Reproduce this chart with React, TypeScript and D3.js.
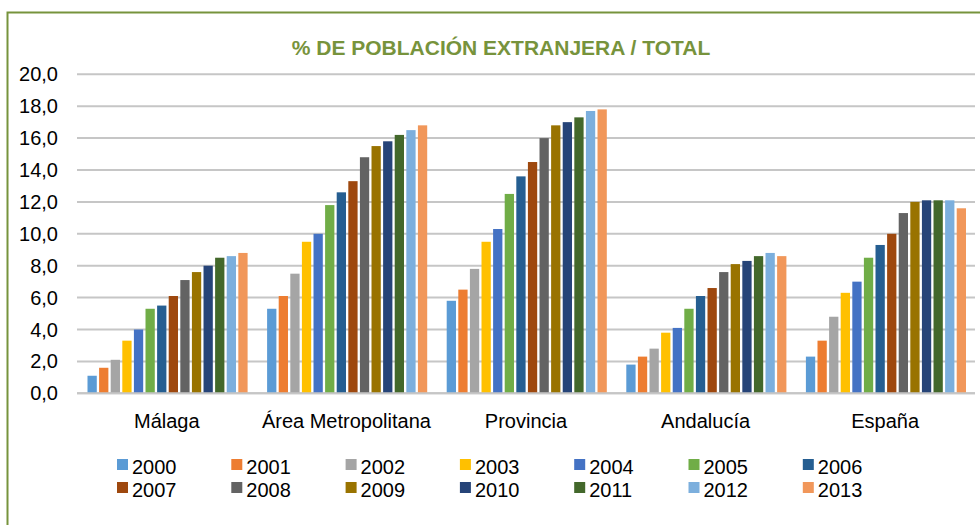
import React from 'react'
import * as d3 from 'd3'

// categorias y series
const categories = ['Málaga', 'Área Metropolitana', 'Provincia', 'Andalucía', 'España']
const years = ['2000', '2001', '2002', '2003', '2004', '2005', '2006', '2007', '2008', '2009', '2010', '2011', '2012', '2013']
const malaga = [1.1, 1.6, 2.1, 3.3, 4.0, 5.3, 5.5, 6.1, 7.1, 7.6, 8.0, 8.5, 8.6, 8.8]
const areaMetropolitana = [5.3, 6.1, 7.5, 9.5, 10.0, 11.8, 12.6, 13.3, 14.8, 15.5, 15.8, 16.2, 16.5, 16.8]
const provincia = [5.8, 6.5, 7.8, 9.5, 10.3, 12.5, 13.6, 14.5, 16.0, 16.8, 17.0, 17.3, 17.7, 17.8]
const andalucia = [1.8, 2.3, 2.8, 3.8, 4.1, 5.3, 6.1, 6.6, 7.6, 8.1, 8.3, 8.6, 8.8, 8.6]
const espana = [2.3, 3.3, 4.8, 6.3, 7.0, 8.5, 9.3, 10.0, 11.3, 12.0, 12.1, 12.1, 12.1, 11.6]
const yTicks = [0, 2, 4, 6, 8, 10, 12, 14, 16, 18, 20]
const colors = ['#5B9BD5', '#ED7D31', '#A5A5A5', '#FFC000', '#4472C4', '#70AD47', '#255E91',
  '#9E480E', '#636363', '#997300', '#264478', '#43682B', '#7CAFDD', '#F1975A']

const values = [malaga, areaMetropolitana, provincia, andalucia, espana]

const width = 980
const height = 525
const green = '#77933C'
const font = '"Liberation Sans", Arial, sans-serif'

const App = () => {
  const x = d3.scaleBand().domain(categories).range([77, 975])
  const xi = d3.scaleBand().domain(years).range([10.5, x.bandwidth() - 9]).paddingInner(0.2)
  const y = d3.scaleLinear().domain([0, 20]).range([393.3, 74.3])
  const color = d3.scaleOrdinal<string, string>().domain(years).range(colors)
  const fmt = d3.formatLocale({ decimal: ',', thousands: '.', grouping: [3], currency: ['', '€'] }).format('.1f')

  return (
    <svg width={width} height={height} style={{ position: 'absolute', left: 0, top: 0, fontFamily: font }}>
      <rect x={0} y={0} width={width} height={height} fill="#fff" />
      <rect x={7.5} y={12.5} width={1000} height={600} fill="none" stroke={green} strokeWidth={2} />
      <text x={501} y={55} textAnchor="middle" fontSize={21} fontWeight="bold" fill={green}>
        % DE POBLACIÓN EXTRANJERA / TOTAL
      </text>

      {/* grid + eje y */}
      {yTicks.map(t => (
        <g key={t}>
          <line x1={77} x2={975} y1={y(t)} y2={y(t)} stroke="#C6C6C6" strokeWidth={2} />
          <text x={58} y={y(t)} dy="0.35em" textAnchor="end" fontSize={20} fill="#000">{fmt(t)}</text>
        </g>
      ))}

      {/* barras */}
      {categories.map((c, ci) => (
        <g key={c} transform={`translate(${x(c)},0)`}>
          {years.map((yr, i) => (
            <rect key={yr} x={xi(yr)} y={y(values[ci][i])} width={xi.bandwidth()}
              height={y(0) - y(values[ci][i])} fill={color(yr)} />
          ))}
        </g>
      ))}
      <line x1={77} x2={975} y1={y(0)} y2={y(0)} stroke="#C6C6C6" strokeWidth={2} />

      {/* categorias */}
      {categories.map(c => (
        <text key={c} x={(x(c) as number) + x.bandwidth() / 2} y={428} textAnchor="middle" fontSize={20} fill="#000">{c}</text>
      ))}

      {/* leyenda */}
      {years.map((yr, i) => {
        const col = i % 7
        const row = Math.floor(i / 7)
        const lx = 117 + col * 114.3
        const ly = 459 + row * 23
        return (
          <g key={yr}>
            <rect x={lx} y={ly} width={11} height={11} fill={color(yr)} />
            <text x={lx + 15} y={ly + 15} fontSize={20} fill="#000">{yr}</text>
          </g>
        )
      })}
    </svg>
  )
}

export default App
